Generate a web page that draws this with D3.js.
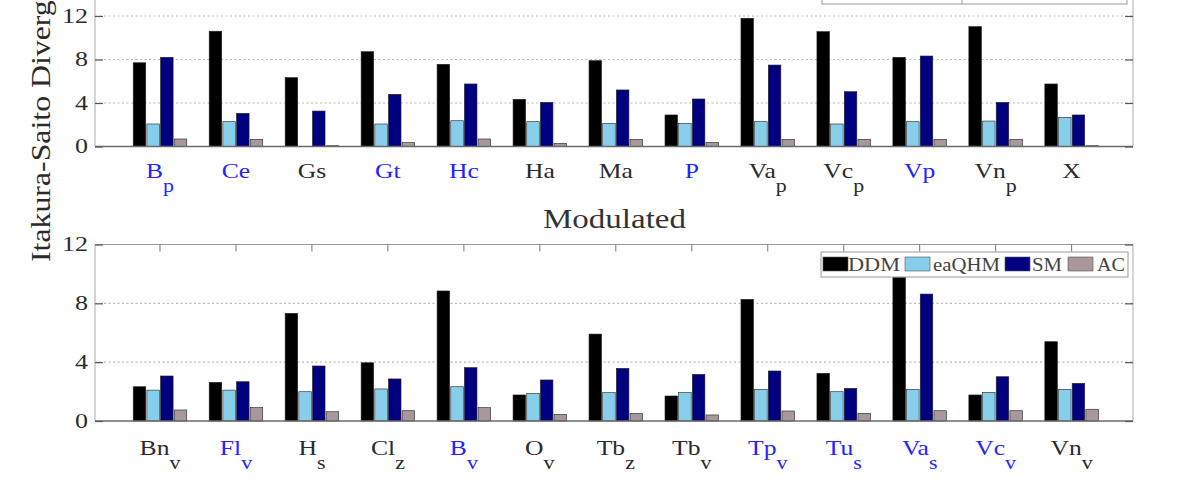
<!DOCTYPE html>
<html>
<head>
<meta charset="utf-8">
<script src="https://cdn.jsdelivr.net/npm/d3@7"></script>
<style>
  html, body { margin: 0; padding: 0; background: #fff; }
  svg { display: block; }
  text { font-family: "Liberation Serif", "Times New Roman", serif; }
</style>
</head>
<body>
<svg id="chart" width="1200" height="494"></svg>
<script>
// ---------- DATA ----------
const seriesNames = ["DDM", "eaQHM", "SM", "AC"];
const seriesColors = ["#000000", "#87ceeb", "#000080", "#a8989c"];

// Top panel (Modulated, upper row)
const topCats  = ["B", "Ce", "Gs", "Gt", "Hc", "Ha", "Ma", "P", "Va", "Vc", "Vp", "Vn", "X"];
const topSubs  = ["p", "", "", "", "", "", "", "", "p", "p", "", "p", ""];
const topBlue  = [1, 1, 0, 1, 1, 0, 0, 1, 0, 0, 1, 0, 0];
const topDDM   = [7.7, 10.6, 6.33, 8.72, 7.56, 4.34, 7.89, 2.9, 11.79, 10.56, 8.2, 11.02, 5.75];
const topEaQHM = [2.07, 2.28, 0, 2.07, 2.37, 2.28, 2.13, 2.13, 2.28, 2.07, 2.28, 2.34, 2.68];
const topSM    = [8.2, 3.05, 3.26, 4.8, 5.75, 4.06, 5.2, 4.37, 7.49, 5.04, 8.32, 4.06, 2.9];
const topAC    = [0.69, 0.66, 0.07, 0.35, 0.69, 0.29, 0.66, 0.38, 0.66, 0.66, 0.66, 0.66, 0.07];

// Bottom panel
const botCats  = ["Bn", "Fl", "H", "Cl", "B", "O", "Tb", "Tb", "Tp", "Tu", "Va", "Vc", "Vn"];
const botSubs  = ["v", "v", "s", "z", "v", "v", "z", "v", "v", "s", "s", "v", "v"];
const botBlue  = [0, 1, 0, 0, 1, 0, 0, 0, 1, 1, 1, 1, 0];
const botDDM   = [2.33, 2.63, 7.32, 3.96, 8.84, 1.77, 5.91, 1.7, 8.27, 3.24, 9.77, 1.77, 5.39];
const botEaQHM = [2.1, 2.1, 1.99, 2.18, 2.33, 1.88, 1.93, 1.93, 2.15, 1.99, 2.15, 1.95, 2.15];
const botSM    = [3.06, 2.67, 3.74, 2.86, 3.63, 2.79, 3.58, 3.17, 3.4, 2.22, 8.63, 3.01, 2.56];
const botAC    = [0.75, 0.91, 0.63, 0.7, 0.91, 0.45, 0.52, 0.41, 0.68, 0.52, 0.7, 0.7, 0.8];

const yTicks = [0, 4, 8, 12];
const titleText = "Modulated";
const yLabelText = "Itakura-Saito Divergence";

// ---------- LAYOUT ----------
const svg = d3.select("#chart");
const X0 = 95, X1 = 1133;
const x = d3.scaleLinear().domain([0.1444, 13.808]).range([X0, X1]);
const barOffset = 0.18, barWidth = 0.165;

const panels = [
  { cats: topCats, subs: topSubs, blue: topBlue, series: [topDDM, topEaQHM, topSM, topAC],
    y: d3.scaleLinear().domain([0, 16]).range([146.5, -27.5]), labelY: 178,
    legend: { x: 822, y: -21, w: 305, h: 25, divider: 962 } },
  { cats: botCats, subs: botSubs, blue: botBlue, series: [botDDM, botEaQHM, botSM, botAC],
    y: d3.scaleLinear().domain([0, 12]).range([421, 244.5]), labelY: 455,
    legend: { x: 821, y: 252, w: 307, h: 25 } }
];

panels.forEach(p => {
  const g = svg.append("g");
  const y = p.y;
  const yTop = y(y.domain()[1]);
  const yBot = y(0);

  // grid lines (dotted)
  g.selectAll(".grid").data(yTicks.filter(t => t > 0)).enter().append("line")
    .attr("x1", X0).attr("x2", X1)
    .attr("y1", d => y(d)).attr("y2", d => y(d))
    .attr("stroke", "#b8b8b8").attr("stroke-width", 1.2)
    .attr("stroke-dasharray", "2,2.5");

  // frame: left/right light lines, top line
  g.append("line").attr("x1", X0).attr("x2", X0).attr("y1", yTop).attr("y2", yBot)
    .attr("stroke", "#c8c8c8").attr("stroke-width", 1.5);
  g.append("line").attr("x1", X1).attr("x2", X1).attr("y1", yTop).attr("y2", yBot)
    .attr("stroke", "#c8c8c8").attr("stroke-width", 1.5);
  g.append("line").attr("x1", X0).attr("x2", X1).attr("y1", yTop).attr("y2", yTop)
    .attr("stroke", "#9a9a9a").attr("stroke-width", 1.2);

  // top x ticks (pointing down from top frame)
  g.selectAll(".xt").data(d3.range(1, p.cats.length + 1)).enter().append("line")
    .attr("x1", d => x(d)).attr("x2", d => x(d))
    .attr("y1", yTop).attr("y2", yTop + 7)
    .attr("stroke", "#777").attr("stroke-width", 1);

  // bars
  p.series.forEach((vals, si) => {
    g.selectAll(".bar" + si).data(vals).enter().append("rect")
      .attr("x", (d, i) => x(i + 1 + (si - 1.5) * barOffset - barWidth / 2))
      .attr("width", x(barWidth) - x(0))
      .attr("y", d => y(d))
      .attr("height", d => y(0) - y(d))
      .attr("fill", seriesColors[si])
      .attr("stroke", "#222").attr("stroke-width", 0.6);
  });

  // baseline
  g.append("line").attr("x1", X0).attr("x2", X1).attr("y1", yBot).attr("y2", yBot)
    .attr("stroke", "#6a6a6a").attr("stroke-width", 1.5);

  // y axes via d3
  const axL = g.append("g").attr("transform", `translate(${X0},0)`)
    .call(d3.axisLeft(y).tickValues(yTicks).tickSize(-8).tickPadding(7).tickFormat(d3.format("d")));
  axL.select(".domain").remove();
  axL.selectAll(".tick line").attr("stroke", "#555").attr("stroke-width", 1.2);
  axL.selectAll(".tick text")
    .attr("fill", "#2b2b2b").attr("font-size", 20)
    .attr("font-family", "Liberation Serif, serif")
    .attr("textLength", d => String(d).length * 13)
    .attr("lengthAdjust", "spacingAndGlyphs");

  const axR = g.append("g").attr("transform", `translate(${X1},0)`)
    .call(d3.axisRight(y).tickValues(yTicks).tickSize(-8).tickFormat(""));
  axR.select(".domain").remove();
  axR.selectAll(".tick line").attr("stroke", "#555").attr("stroke-width", 1.2);

  // x labels with subscripts
  p.cats.forEach((c, i) => {
    const t = g.append("text")
      .attr("transform", `translate(${x(i + 1)},${p.labelY}) scale(1.22,1)`)
      .attr("text-anchor", "middle")
      .attr("font-size", 21)
      .attr("fill", p.blue[i] ? "#2424ff" : "#2b2b2b");
    t.append("tspan").text(c);
    if (p.subs[i]) {
      t.append("tspan").attr("dy", 14).attr("font-size", 18).text(p.subs[i]);
    }
  });

  // legend
  const L = p.legend;
  const lg = g.append("g");
  lg.append("rect").attr("x", L.x).attr("y", L.y).attr("width", L.w).attr("height", L.h)
    .attr("fill", "#fff").attr("stroke", "#9a9a9a").attr("stroke-width", 1);
  if (L.divider) {
    lg.append("line").attr("x1", L.divider).attr("x2", L.divider)
      .attr("y1", L.y).attr("y2", L.y + L.h).attr("stroke", "#9a9a9a").attr("stroke-width", 1);
  } else {
    const swX = [2, 84, 184, 247];
    const txX = [27, 112, 211, 276];
    const txW = [52, 67, 30, 28];
    seriesNames.forEach((n, si) => {
      lg.append("rect").attr("x", L.x + swX[si]).attr("y", L.y + 5)
        .attr("width", 25).attr("height", 14)
        .attr("fill", seriesColors[si]).attr("stroke", "#555").attr("stroke-width", 0.6);
      lg.append("text").attr("x", L.x + txX[si]).attr("y", L.y + 19)
        .attr("font-size", 18).attr("fill", "#444")
        .attr("textLength", txW[si]).attr("lengthAdjust", "spacingAndGlyphs")
        .text(n);
    });
  }
});

// title between panels
svg.append("text").attr("x", 614.5).attr("y", 228)
  .attr("text-anchor", "middle").attr("font-size", 27).attr("fill", "#333")
  .attr("textLength", 143).attr("lengthAdjust", "spacingAndGlyphs")
  .text(titleText);

// y label
svg.append("text")
  .attr("transform", "translate(50,102) rotate(-90)")
  .attr("text-anchor", "middle").attr("font-size", 28).attr("fill", "#2b2b2b")
  .attr("textLength", 320).attr("lengthAdjust", "spacingAndGlyphs")
  .text(yLabelText);
</script>
</body>
</html>
